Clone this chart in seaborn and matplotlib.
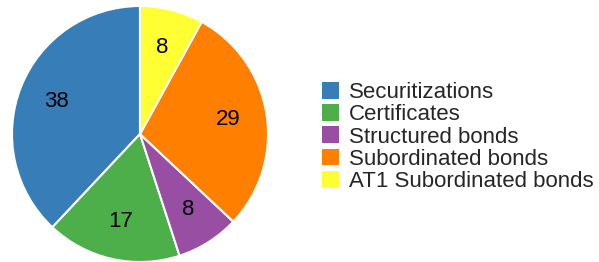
import matplotlib
matplotlib.use("Agg")
import matplotlib.pyplot as plt
import seaborn as sns
from matplotlib.patches import Patch

categories = ["Securitizations", "Certificates", "Structured bonds",
              "Subordinated bonds", "AT1 Subordinated bonds"]
values = [38, 17, 8, 29, 8]

sns.set_theme(style="white")
plt.rcParams['font.family'] = ['Liberation Sans', 'DejaVu Sans']

pal = sns.color_palette("Set1", 6)
colors = [pal[1], pal[2], pal[3], pal[4], pal[5]]

fig = plt.figure(figsize=(5.99, 2.62), dpi=100)
ax = fig.add_axes([12/599, 0/262, 256/599, 256/262])
wedges, texts = ax.pie(values, labels=[str(v) for v in values], colors=colors,
                       startangle=90, counterclock=True, labeldistance=0.70,
                       radius=1.0,
                       wedgeprops=dict(edgecolor="white", linewidth=1.5),
                       textprops=dict(fontsize=16, color="black", ha="center", va="center"))
for t in texts:
    t.set_ha("center")
    t.set_va("center")
ax.set_xlim(-1.0, 1.0)
ax.set_ylim(-1.0, 1.0)
ax.set_aspect("equal")
ax.axis("off")

handles = [Patch(facecolor=c, edgecolor="none") for c in colors]
fig.legend(handles, categories, loc="center left", bbox_to_anchor=(322/599, 1-137/262),
           frameon=False, fontsize=16, borderpad=0, borderaxespad=0,
           handlelength=0.78, handleheight=0.78, handletextpad=0.45, labelspacing=0.05)

fig.savefig("out.png", dpi=100, facecolor="white")
